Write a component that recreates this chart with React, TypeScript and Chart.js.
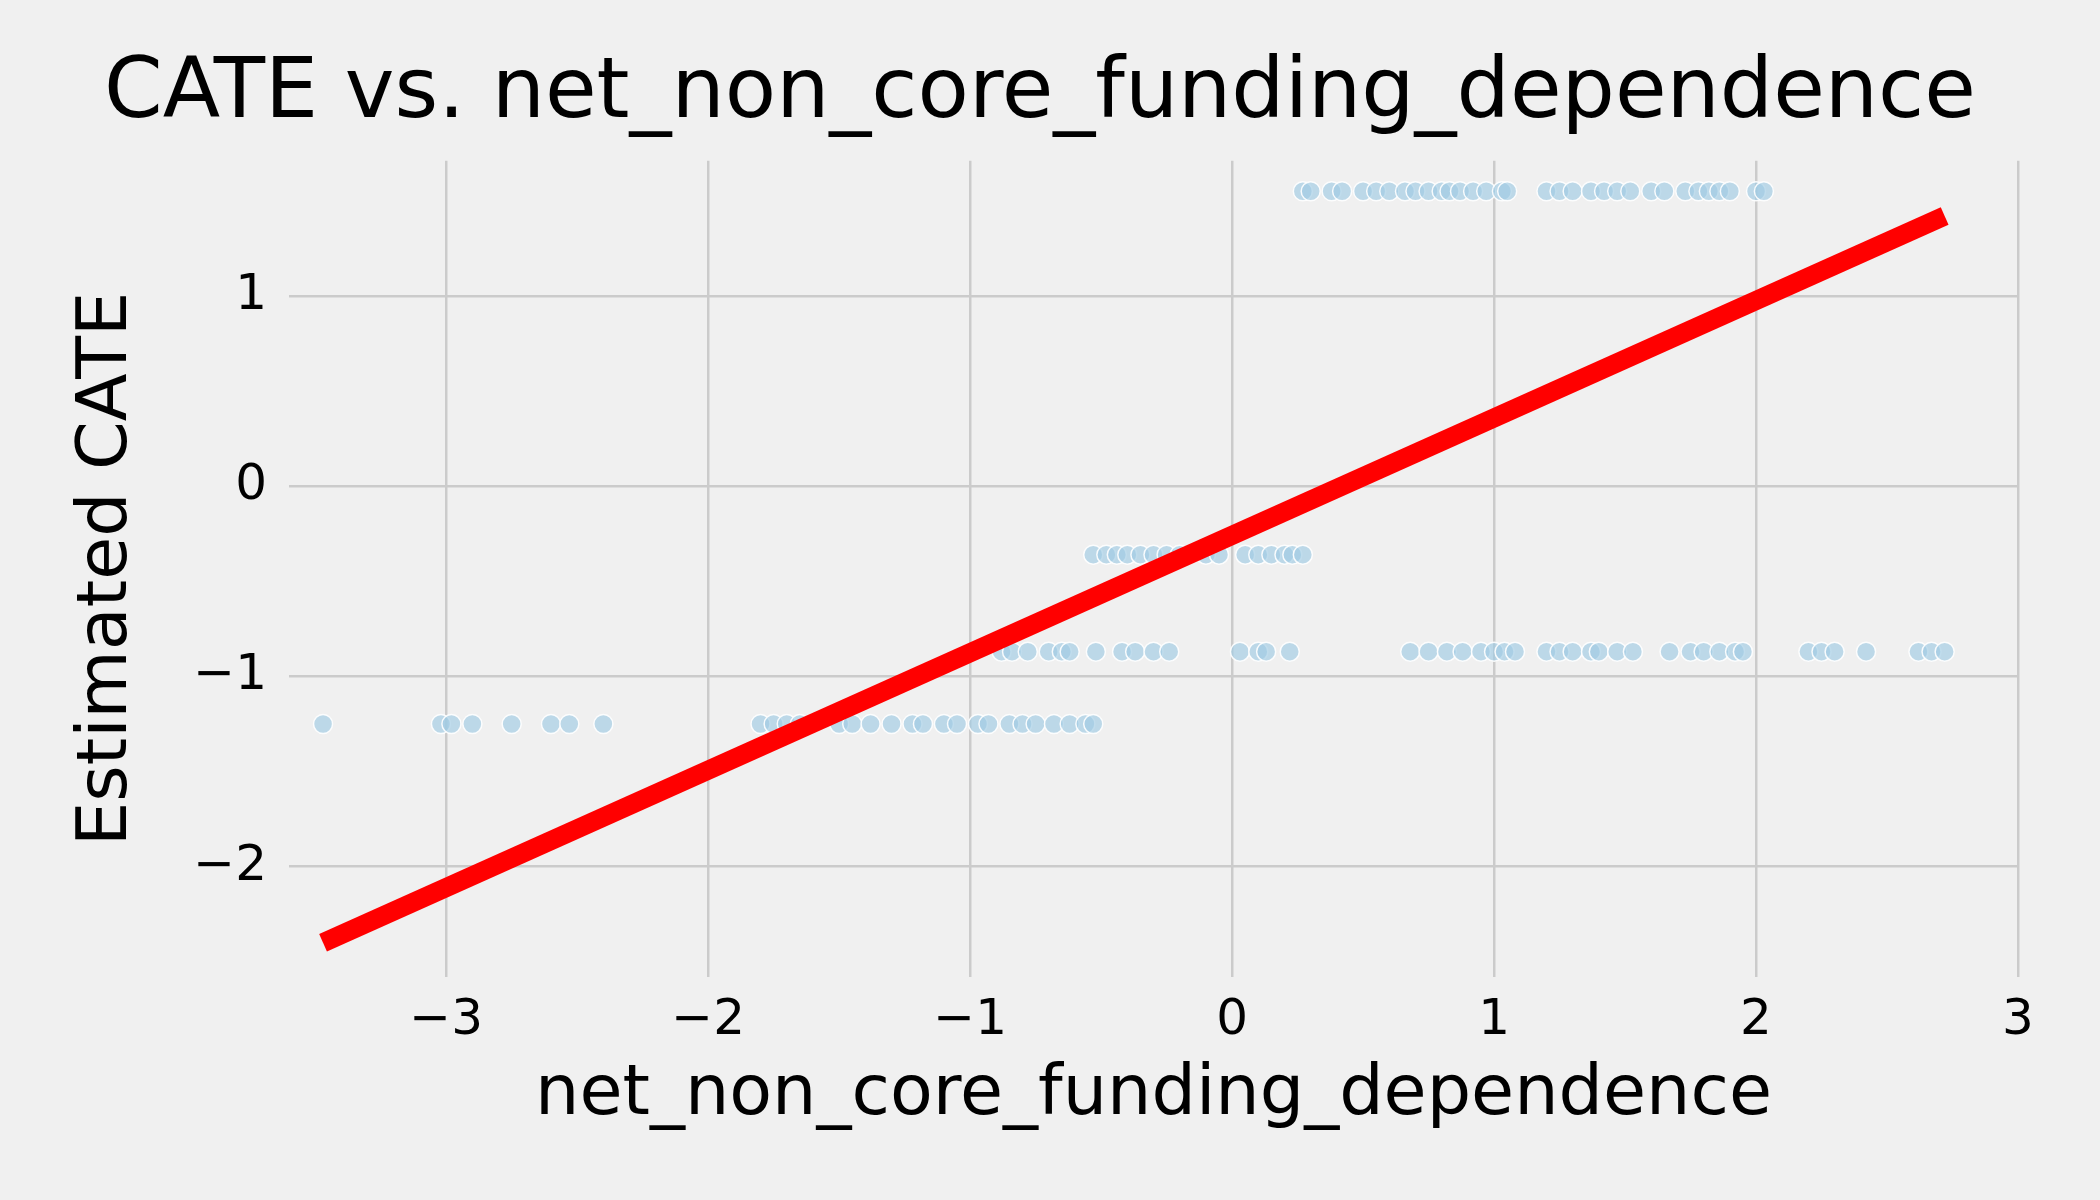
import { useEffect, useRef } from "react";
import Chart from "chart.js/auto";

const topX = [0.27, 0.3, 0.38, 0.42, 0.5, 0.55, 0.6, 0.66, 0.7, 0.75, 0.8, 0.83, 0.87, 0.92, 0.97, 1.03, 1.05, 1.2, 1.25, 1.3, 1.37, 1.42, 1.47, 1.52, 1.6, 1.65, 1.73, 1.78, 1.82, 1.86, 1.9, 2.0, 2.03];
const midX = [-0.53, -0.48, -0.44, -0.4, -0.35, -0.3, -0.25, -0.2, -0.1, -0.05, 0.05, 0.1, 0.15, 0.2, 0.23, 0.27];
const lowX = [-0.88, -0.84, -0.78, -0.7, -0.65, -0.62, -0.52, -0.42, -0.37, -0.3, -0.24, 0.03, 0.1, 0.13, 0.22, 0.68, 0.75, 0.82, 0.88, 0.95, 1.0, 1.04, 1.08, 1.2, 1.25, 1.3, 1.37, 1.4, 1.47, 1.53, 1.67, 1.75, 1.8, 1.86, 1.92, 1.95, 2.2, 2.25, 2.3, 2.42, 2.62, 2.67, 2.72];
const bottomX = [-3.47, -3.02, -2.98, -2.9, -2.75, -2.6, -2.53, -2.4, -1.8, -1.75, -1.7, -1.65, -1.5, -1.45, -1.38, -1.3, -1.22, -1.18, -1.1, -1.05, -0.97, -0.93, -0.85, -0.8, -0.75, -0.68, -0.62, -0.56, -0.53];
const levels = [1.55, -0.36, -0.87, -1.25];
const fitLine = [{ x: -3.47, y: -2.4 }, { x: 2.72, y: 1.42 }];
const xTicks = [-3, -2, -1, 0, 1, 2, 3];
const yTicks = [-2, -1, 0, 1];

const font = "'DejaVu Sans', sans-serif";

export default function App() {
  const canvasRef = useRef<HTMLCanvasElement | null>(null);

  useEffect(() => {
    document.body.style.margin = "0";
    if (!canvasRef.current) return;
    const groups = [topX, midX, lowX, bottomX];
    const points = groups.flatMap((xs, i) => xs.map((x) => ({ x, y: levels[i] })));
    const chart = new Chart(canvasRef.current, {
      type: "scatter",
      data: {
        datasets: [
          {
            type: "line",
            data: fitLine,
            borderColor: "#ff0000",
            borderWidth: 19,
            pointRadius: 0,
            borderCapStyle: "butt",
            order: 0,
          },
          {
            data: points,
            backgroundColor: "rgba(160,203,228,0.65)",
            borderColor: "rgba(255,255,255,0.9)",
            borderWidth: 1.5,
            pointRadius: 9.5,
            order: 1,
          },
        ],
      },
      options: {
        animation: false,
        responsive: false,
        layout: { padding: { left: 62, right: 82, top: 0, bottom: 58 } },
        plugins: {
          legend: { display: false },
          tooltip: { enabled: false },
          title: {
            display: true,
            text: "CATE vs. net_non_core_funding_dependence",
            color: "#000",
            font: { family: font, size: 84, weight: "normal" },
            padding: { top: 45, bottom: 15 },
          },
        },
        scales: {
          x: {
            type: "linear",
            min: -3.6,
            max: 3.0,
            afterBuildTicks: (s: any) => { s.ticks = xTicks.map((v) => ({ value: v })); },
            afterFit: (s: any) => { s.height = 165; },
            border: { display: false },
            grid: { color: "#cbcbcb", lineWidth: 2.5, tickLength: 0 },
            ticks: {
              color: "#000",
              font: { family: font, size: 50 },
              padding: 14,
              callback: (v: any) => String(v).replace("-", "\u2212"),
            },
            title: {
              display: true,
              text: "net_non_core_funding_dependence",
              color: "#000",
              font: { family: font, size: 70 },
              padding: { top: 0 },
            },
          },
          y: {
            type: "linear",
            min: -2.58,
            max: 1.71,
            afterBuildTicks: (s: any) => { s.ticks = yTicks.map((v) => ({ value: v })); },
            afterFit: (s: any) => { s.width = 227; },
            border: { display: false },
            grid: { color: "#cbcbcb", lineWidth: 2.5, tickLength: 0 },
            ticks: {
              color: "#000",
              font: { family: font, size: 50 },
              padding: 22,
              callback: (v: any) => String(v).replace("-", "\u2212"),
            },
            title: {
              display: true,
              text: "Estimated CATE",
              color: "#000",
              font: { family: font, size: 70 },
              padding: { bottom: 0 },
            },
          },
        },
      },
      plugins: [
        {
          id: "bg",
          beforeDraw: (c: any) => {
            const ctx = c.ctx;
            ctx.save();
            ctx.fillStyle = "#f0f0f0";
            ctx.fillRect(0, 0, c.width, c.height);
            ctx.restore();
          },
        },
      ],
    });
    return () => chart.destroy();
  }, []);

  return <canvas ref={canvasRef} width={2100} height={1200} style={{ display: "block" }} />;
}
